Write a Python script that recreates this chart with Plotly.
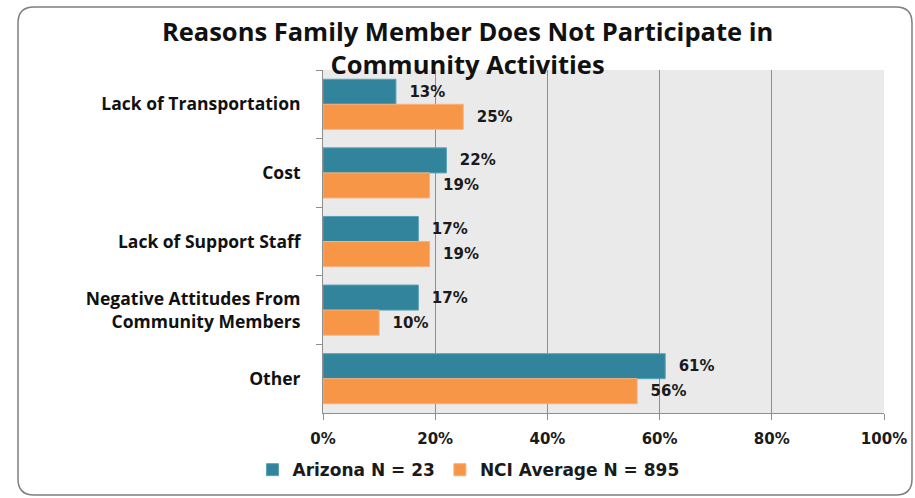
import plotly.graph_objects as go

categories = [
    "Lack of Transportation",
    "Cost",
    "Lack of Support Staff",
    "Negative Attitudes From<br>Community Members",
    "Other",
]
arizona = [13, 22, 17, 17, 61]
nci_average = [25, 19, 19, 10, 56]
x_ticks = [0, 20, 40, 60, 80, 100]
x_tick_labels = ["0%", "20%", "40%", "60%", "80%", "100%"]

TEAL = "#31849B"
ORANGE = "#F79646"
GRID = "#8f8f8f"
VALUE_FONT = dict(family="Verdana, DejaVu Sans, sans-serif", size=15, color="#1a1a1a", weight="bold")
CAT_FONT = dict(family="Open Sans, sans-serif", size=17.5, color="#111111", weight="bold")

# plot area geometry in pixels (used to place the outer frame in paper units)
W, H = 915, 498
L, R, T, B = 323, 31, 70, 85
PW, PH = W - L - R, H - T - B


def px_to_paper(x, y):
    return (x - L) / PW, (H - B - y) / PH


def rounded_frame(x0, y0, x1, y1, r):
    pts = []
    a = px_to_paper
    cmds = [
        ("M", a(x0 + r, y0)),
        ("L", a(x1 - r, y0)), ("Q", a(x1, y0), a(x1, y0 + r)),
        ("L", a(x1, y1 - r)), ("Q", a(x1, y1), a(x1 - r, y1)),
        ("L", a(x0 + r, y1)), ("Q", a(x0, y1), a(x0, y1 - r)),
        ("L", a(x0, y0 + r)), ("Q", a(x0, y0), a(x0 + r, y0)),
    ]
    for c in cmds:
        pts.append(c[0] + " " + " ".join(f"{p[0]:.5f},{p[1]:.5f}" for p in c[1:]))
    return " ".join(pts) + " Z"


fig = go.Figure()
fig.add_trace(go.Bar(
    y=categories, x=arizona, name="Arizona N = 23", orientation="h",
    marker=dict(color=TEAL, line=dict(color="#5aa3b8", width=1)),
    text=[f"  {v}%" for v in arizona], textposition="outside",
    textfont=VALUE_FONT, cliponaxis=False,
))
fig.add_trace(go.Bar(
    y=categories, x=nci_average, name="NCI Average N = 895", orientation="h",
    marker=dict(color=ORANGE, line=dict(color="#f9b07a", width=1)),
    text=[f"  {v}%" for v in nci_average], textposition="outside",
    textfont=VALUE_FONT, cliponaxis=False,
))

fig.update_layout(
    width=W, height=H,
    margin=dict(l=L, r=R, t=T, b=B, autoexpand=False),
    paper_bgcolor="white",
    plot_bgcolor="#EAEAEA",
    barmode="group",
    bargap=0.27,
    bargroupgap=0,
    title=dict(
        text="Reasons Family Member Does Not Participate in<br>Community Activities",
        x=0.511, xanchor="center", y=0.918, yanchor="top",
        font=dict(family="Open Sans, sans-serif", size=25.5, color="#111111", weight="bold"),
    ),
    showlegend=True,
    legend=dict(
        orientation="h", xref="container", yref="container",
        x=0.512, xanchor="center", y=0.056, yanchor="middle",
        bgcolor="rgba(0,0,0,0)",
        font=dict(family="Verdana, DejaVu Sans, sans-serif", size=17, color="#1a1a1a", weight="bold"),
        traceorder="normal",
    ),
    xaxis=dict(
        range=[0, 100], tickvals=x_ticks, ticktext=x_tick_labels,
        showgrid=True, gridcolor=GRID, gridwidth=1,
        showline=True, linecolor=GRID, linewidth=1,
        ticks="outside", ticklen=6, tickcolor=GRID,
        tickfont=VALUE_FONT, ticklabelstandoff=6,
        zeroline=False, fixedrange=True,
    ),
    yaxis=dict(
        autorange="reversed",
        showline=True, linecolor=GRID, linewidth=1,
        ticks="outside", ticklen=6, tickcolor=GRID, tickson="boundaries",
        tickfont=CAT_FONT, ticklabelstandoff=18,
        showgrid=False,
    ),
    shapes=[dict(
        type="path", xref="paper", yref="paper",
        path=rounded_frame(18, 7, 912, 495, 16),
        line=dict(color="#7f7f7f", width=1.5), layer="below",
    )],
)

fig.write_html("out.html")
